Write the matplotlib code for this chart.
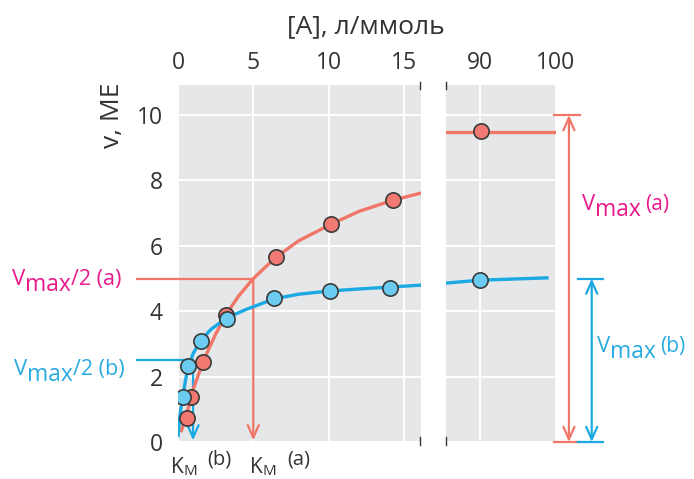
import matplotlib
matplotlib.use("Agg")
import matplotlib.pyplot as plt
from matplotlib.transforms import IdentityTransform

FONT = ["Open Sans", "DejaVu Sans"]
plt.rcParams['font.family'] = FONT

# ---------------- data ----------------
x_ticks_left = [0, 5, 10, 15]
x_ticks_right = [90, 100]
y_ticks = [0, 2, 4, 6, 8, 10]

# measured points, curve (a) and (b)
x_pts_a = [0.6, 0.86, 1.66, 3.19, 6.51, 10.16, 14.28, 90.1]
v_pts_a = [0.73, 1.38, 2.45, 3.88, 5.66, 6.67, 7.40, 9.51]
x_pts_b = [0.33, 0.66, 1.53, 3.25, 6.37, 10.09, 14.08, 90.0]
v_pts_b = [1.38, 2.32, 3.09, 3.76, 4.40, 4.62, 4.71, 4.95]

# fitted curves
curve_x_a_left = [0.2, 0.6, 1.0, 1.7, 2.5, 3.2, 4.0, 5.0, 6.5, 8.0, 10.2, 12.0, 14.3, 16.2]
curve_v_a_left = [0.3, 0.9, 1.6, 2.5, 3.3, 3.9, 4.45, 5.0, 5.65, 6.15, 6.67, 7.05, 7.4, 7.62]
curve_x_a_right = [85.5, 100]
curve_v_a_right = [9.48, 9.48]

curve_x_b_left = [0.0, 0.1, 0.2, 0.33, 0.5, 0.66, 1.0, 1.5, 2.2, 3.25, 4.5, 6.4, 8.0, 10.1, 12.0, 14.1, 16.2]
curve_v_b_left = [0.15, 0.7, 1.05, 1.4, 1.9, 2.25, 2.7, 3.1, 3.45, 3.8, 4.05, 4.38, 4.52, 4.62, 4.68, 4.74, 4.8]
curve_x_b_right = [85.5, 90, 98.8]
curve_v_b_right = [4.86, 4.95, 5.02]

vmax_a, km_a = 10.0, 5.0
vmax_b, km_b = 5.0, 1.0

# ---------------- style ----------------
W, H = 694, 479
BG = "#e6e7e8"
RED = "#f07668"
RED_FILL = "#f07a72"
BLUE = "#1aa9e2"
BLUE_FILL = "#6ccbf1"
PINK = "#e8198b"
CYAN = "#29abe2"
DARK = "#333333"
EDGE = "#3a3a3a"

fig = plt.figure(figsize=(W / 100, H / 100), dpi=100)

def frac_rect(x0, y0, x1, y1):
    return [x0 / W, (H - y1) / H, (x1 - x0) / W, (y1 - y0) / H]

axL = fig.add_axes(frac_rect(178, 85, 421, 442))
axR = fig.add_axes(frac_rect(446, 85, 556, 442))

ylim = (0, 10.92)
axL.set_xlim(0, 16.14)
axR.set_xlim(85.53, 100)

for ax, xt in ((axL, x_ticks_left), (axR, x_ticks_right)):
    ax.set_facecolor(BG)
    ax.set_ylim(*ylim)
    ax.set_xticks(xt)
    ax.set_xticklabels([str(t) for t in xt])
    ax.set_yticks(y_ticks)
    ax.grid(True, color="white", lw=1.4, zorder=0)
    ax.set_axisbelow(True)
    for s in ax.spines.values():
        s.set_visible(False)
    ax.xaxis.tick_top()
    ax.tick_params(axis="x", length=0, pad=7, labelsize=16.5, labelcolor=DARK,
                   top=False, bottom=False, labeltop=True, labelbottom=False)
    ax.tick_params(axis="y", length=0, pad=11, labelsize=16.5, labelcolor=DARK)

axR.tick_params(axis="y", labelleft=False)
axL.set_yticklabels([str(t) for t in y_ticks])

# annotation lines (Vmax/2 and Km)
arrow_style = "->,head_length=0.9,head_width=0.4"
axL.plot([-2.72, km_a], [vmax_a / 2, vmax_a / 2], color=RED, lw=1.6, clip_on=False, zorder=2)
axL.annotate("", xy=(km_a, 0.05), xytext=(km_a, vmax_a / 2),
             arrowprops=dict(arrowstyle=arrow_style, color=RED, lw=1.6,
                             shrinkA=0, shrinkB=0), zorder=2)
axL.plot([-2.72, km_b], [vmax_b / 2, vmax_b / 2], color=BLUE, lw=1.6, clip_on=False, zorder=2)
axL.annotate("", xy=(km_b, 0.05), xytext=(km_b, vmax_b / 2),
             arrowprops=dict(arrowstyle=arrow_style, color=BLUE, lw=1.6,
                             shrinkA=0, shrinkB=0), zorder=2)

# curves
axL.plot(curve_x_a_left, curve_v_a_left, color=RED, lw=2.4, zorder=3, solid_capstyle="butt")
axR.plot(curve_x_a_right, curve_v_a_right, color=RED, lw=2.4, zorder=3)
axL.plot(curve_x_b_left, curve_v_b_left, color=BLUE, lw=2.4, zorder=4, solid_capstyle="butt")
axR.plot(curve_x_b_right, curve_v_b_right, color=BLUE, lw=2.4, zorder=4)

# markers
for ax in (axL, axR):
    ax.plot(x_pts_a, v_pts_a, "o", ms=11, mfc=RED_FILL, mec=EDGE, mew=1.2, zorder=5, ls="none")
    ax.plot(x_pts_b, v_pts_b, "o", ms=11, mfc=BLUE_FILL, mec=EDGE, mew=1.2, zorder=6, ls="none")

# Vmax brackets on the right
def bracket(ax, x, x0, x1, top, color):
    ax.plot([x0, x1], [top, top], color=color, lw=1.6, clip_on=False, zorder=2)
    ax.plot([x0, x1], [0, 0], color=color, lw=1.6, clip_on=False, zorder=2)
    ax.annotate("", xy=(x, 0), xytext=(x, top),
                arrowprops=dict(arrowstyle="<->,head_length=0.9,head_width=0.4", color=color, lw=1.6,
                                shrinkA=0, shrinkB=0), annotation_clip=False)

bracket(axR, 101.7, 99.7, 103.2, vmax_a, RED)
bracket(axR, 104.7, 102.9, 106.2, vmax_b, BLUE)

# axis-break marks
for xp in (420, 446):
    for (y0, y1) in ((82, 89), (437, 445)):
        fig.add_artist(plt.Line2D([xp / W, xp / W], [(H - y0) / H, (H - y1) / H],
                                  color=DARK, lw=1.0, transform=fig.transFigure))

# ---------------- rich labels ----------------
renderer = fig.canvas.get_renderer()

def rich(x_px, base_px, parts, color):
    x = x_px
    for s, size, dy, gap in parts:
        x += gap
        t = fig.text(x, H - (base_px + dy), s, fontsize=size, color=color,
                     transform=IdentityTransform(), ha="left", va="baseline")
        bb = t.get_window_extent(renderer)
        x = bb.x1

rich(12, 285, [("V", 16, 0, 0), ("max", 16.5, 6, 0), ("/2 (a)", 15.5, 0, 0)], PINK)
rich(14, 375, [("V", 16, 0, 0), ("max", 16.5, 6, 0), ("/2 (b)", 15.5, 0, 0)], CYAN)
rich(582, 210, [("V", 16, 0, 0), ("max", 16.5, 6, 0), ("(a)", 15, 0, 4)], PINK)
rich(597, 352, [("V", 16, 0, 0), ("max", 16.5, 6, 0), ("(b)", 15, 0, 4)], CYAN)
rich(171, 473, [("K", 15, 0, 0), ("M", 11, 2, 0), ("(b)", 14.5, -8, 10)], DARK)
rich(250, 473, [("K", 15, 0, 0), ("M", 11, 2, 0), ("(a)", 14.5, -8, 11)], DARK)

# axis titles
fig.text(366 / W, 1 - 27 / H, "[A], л/ммоль", fontsize=19, color=DARK, ha="center", va="center")
fig.text(113 / W, 1 - 115 / H, "v, МЕ", fontsize=19, color=DARK, ha="center", va="center", rotation=90)

fig.savefig("out.png", dpi=100)
